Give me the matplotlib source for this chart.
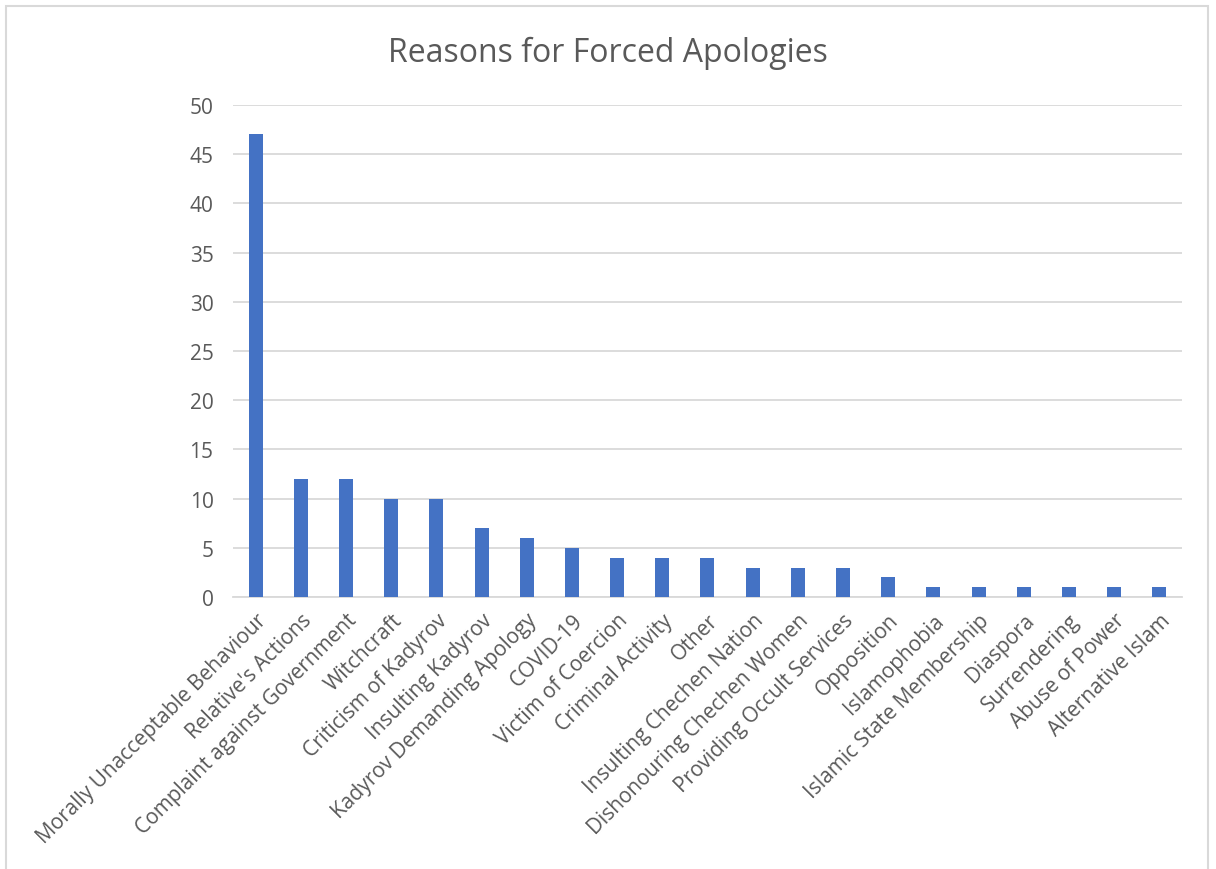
import matplotlib.pyplot as plt
from matplotlib.patches import Rectangle

reasons = [
    "Morally Unacceptable Behaviour", "Relative's Actions",
    "Complaint against Government", "Witchcraft", "Criticism of Kadyrov",
    "Insulting Kadyrov", "Kadyrov Demanding Apology", "COVID-19",
    "Victim of Coercion", "Criminal Activity", "Other",
    "Insulting Chechen Nation", "Dishonouring Chechen Women",
    "Providing Occult Services", "Opposition", "Islamophobia",
    "Islamic State Membership", "Diaspora", "Surrendering",
    "Abuse of Power", "Alternative Islam",
]
counts = [47, 12, 12, 10, 10, 7, 6, 5, 4, 4, 4, 3, 3, 3, 2, 1, 1, 1, 1, 1, 1]
y_ticks = list(range(0, 51, 5))

BAR_COLOR = "#4472C4"
GRID_COLOR = "#D9D9D9"
TEXT_COLOR = "#595959"

plt.rcParams["font.family"] = ["Open Sans", "DejaVu Sans"]

fig = plt.figure(figsize=(12.16, 8.70), dpi=100)
ax = fig.add_axes([0.1916, 0.3126, 0.7804, 0.5656])

# chart frame
fig.patches.append(Rectangle((6 / 1216, -0.05), 1202 / 1216, 1.05 - 7 / 870,
                             transform=fig.transFigure, fill=False,
                             edgecolor=GRID_COLOR, linewidth=1.5))

x = range(len(reasons))
ax.bar(x, counts, width=0.31, color=BAR_COLOR, zorder=3)

ax.set_xlim(-0.5, len(reasons) - 0.5)
ax.set_ylim(0, 50)
ax.set_yticks(y_ticks)
ax.set_xticks(list(x))
ax.set_xticklabels(reasons, rotation=45, ha="right", rotation_mode="anchor",
                   fontsize=15, color=TEXT_COLOR)
ax.tick_params(axis="y", labelsize=15, labelcolor=TEXT_COLOR, length=0, pad=14)
ax.tick_params(axis="x", length=0, pad=9)

ax.grid(axis="y", color=GRID_COLOR, linewidth=1.3, zorder=0)
for side in ["top", "right", "left"]:
    ax.spines[side].set_visible(False)
ax.spines["bottom"].set_color(GRID_COLOR)
ax.spines["bottom"].set_linewidth(1.3)

fig.text(0.5, 1 - 53 / 870, "Reasons for Forced Apologies", ha="center",
         va="center", fontsize=23, color=TEXT_COLOR)

fig.savefig("out.png", dpi=100)
